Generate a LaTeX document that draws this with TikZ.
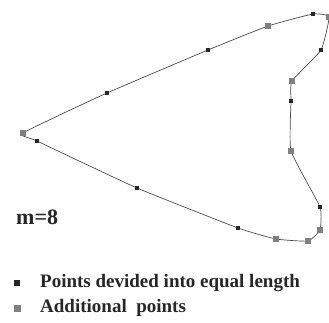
\documentclass[tikz,border=0pt]{standalone}
\usepackage{fontspec}
\setmainfont{Liberation Serif}
\usetikzlibrary{positioning}

\begin{document}
\begin{tikzpicture}[
    x=1pt, y=-1pt,
    % Styles
    contour/.style={draw=black!70, line width=0.7pt},
    eqpt/.style={rectangle, fill=black!85, inner sep=0pt, minimum size=4.5pt},
    addpt/.style={rectangle, fill=black!50, inner sep=0pt, minimum size=6pt},
    legtext/.style={font=\fontsize{19}{21}\selectfont\bfseries, text=black!85, anchor=west, inner sep=0pt}
]
\useasboundingbox (0,0) rectangle (329,323);

% 1. CONTOUR POINTS
\coordinate (p1) at (23,133);
\coordinate (p2) at (107,93);
\coordinate (p3) at (208,50);
\coordinate (p4) at (268,26);
\coordinate (p5) at (313,14);
\coordinate (p6) at (329,17);
\coordinate (p7) at (321,50);
\coordinate (p8) at (292,81);
\coordinate (p9) at (291,101);
\coordinate (p10) at (291,151);
\coordinate (p11) at (320,207);
\coordinate (p12) at (320,230);
\coordinate (p13) at (308,241);
\coordinate (p14) at (276,239);
\coordinate (p15) at (238,228);
\coordinate (p16) at (137,188);
\coordinate (p17) at (37,141);

% 2. CONTOUR
\draw[contour] plot[smooth cycle, tension=0.25] coordinates {(p1) (p2) (p3) (p4) (p5) (p6) (p7) (p8) (p9) (p10) (p11) (p12) (p13) (p14) (p15) (p16) (p17)};

% 3. MARKERS
\foreach \p in {p2, p3, p5, p7, p9, p11, p15, p16, p17}
    \node[eqpt] at (\p) {};
\foreach \p in {p1, p4, p6, p8, p10, p12, p13, p14}
    \node[addpt] at (\p) {};

% 4. LABEL
\node[font=\fontsize{22}{24}\selectfont\bfseries, text=black!85, anchor=west, inner sep=0pt] (mlabel) at (16,217) {m=8};

% 5. LEGEND
\node[eqpt, minimum size=5.5pt] (legeq) at (17,283) {};
\node[legtext] (legeqtext) at (40,283) {Points devided into equal length};
\node[addpt, minimum size=7pt] (legadd) at (17,308) {};
\node[legtext] (legaddtext) at (40,308) {Additional\ \ points};

\end{tikzpicture}
\end{document}
